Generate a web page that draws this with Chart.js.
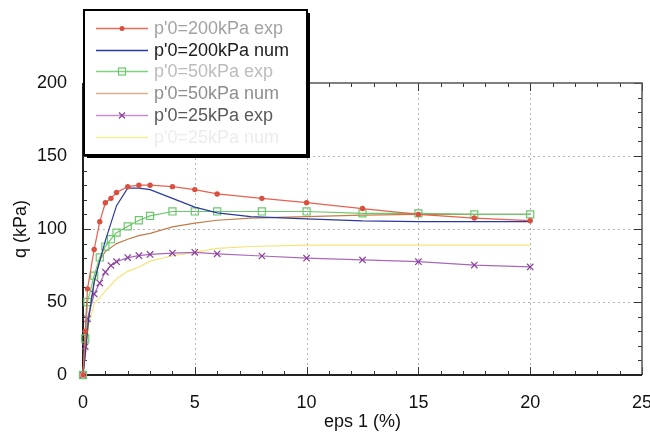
<!DOCTYPE html>
<html><head><meta charset="utf-8">
<script src="https://cdn.jsdelivr.net/npm/chart.js@4"></script>
<style>html,body{margin:0;padding:0;background:#fff}</style>
</head><body>
<canvas id="c" width="650" height="433"></canvas>
<script>
const xTicks=[0,5,10,15,20,25];
const yTicks=[0,50,100,150,200];
const seriesNames=["p'0=200kPa exp","p'0=200kPa num","p'0=50kPa exp","p'0=50kPa num","p'0=25kPa exp","p'0=25kPa num"];
const expX=[0,0.1,0.2,0.5,0.75,1,1.25,1.5,2,2.5,3,4,5,6,8,10,12.5,15,17.5,20];
const exp200=[0,30,59,86,105,118,121,125,129,130,130,129,127,124,121,118,114,110,107.5,105.7];
const exp50=[0,25,50,68,80.5,88,93,97.5,101.8,106,109,112,112,112,112,112,110.7,110.7,110,110];
const exp25=[0,19.5,38.5,55.5,63,70.5,75,77.6,80.4,81.7,82.6,83.5,84,83,81.5,80,78.8,77.6,75.3,74];
const numX=[0,0.1,0.25,0.5,0.75,1,1.5,2,2.5,3,4,5,6,7.5,10,12.5,15,17.5,20];
const num200=[0,14,38,64,78,92,116,128,128,127,121,115,111,108.5,107,105.5,105,105,105];
const num50=[0,15,40,63,79,84.5,90,93,95.5,97,101.5,104,106,107.5,108.5,109.5,110,110,110];
const num25=[0,12,34,49,53,57.5,66,71,74,78,81.7,84,86.7,88,89,89,89,89,89];

const FONT='"Liberation Sans", Arial, sans-serif';
const pts=(xs,ys)=>xs.map((x,i)=>({x:x,y:ys[i]}));

const legendStyle=[
  {line:'#ee6a58',text:'#a2a2a2',marker:'circle',mc:'#d95040'},
  {line:'#2a3a9c',text:'#202020'},
  {line:'#7dd27d',text:'#bcbcbc',marker:'rect',mc:'#6cc86c'},
  {line:'#dcae8c',text:'#8e8e8e'},
  {line:'#c28fd0',text:'#5a5a5a',marker:'cross',mc:'#8b3f9b'},
  {line:'#f7ee9c',text:'#ececec'}
];

const framePlugin={
  id:'frame',
  beforeDatasetsDraw(chart){
    const {ctx,chartArea:a,scales:{x,y}}=chart;
    ctx.save();
    ctx.strokeStyle='#b4b4b4';ctx.lineWidth=1;ctx.setLineDash([2,3]);
    [5,10,15,20].forEach(v=>{const px=Math.round(x.getPixelForValue(v))+0.5;ctx.beginPath();ctx.moveTo(px,a.top);ctx.lineTo(px,a.bottom);ctx.stroke();});
    [50,100,150].forEach(v=>{const py=Math.round(y.getPixelForValue(v))+0.5;ctx.beginPath();ctx.moveTo(a.left,py);ctx.lineTo(a.right,py);ctx.stroke();});
    ctx.setLineDash([]);
    ctx.strokeStyle='#333';ctx.lineWidth=1;
    for(let v=0;v<=25;v++){const px=Math.round(x.getPixelForValue(v))+0.5;const L=(v%5===0)?8:4;
      ctx.beginPath();ctx.moveTo(px,a.bottom);ctx.lineTo(px,a.bottom-L);ctx.stroke();
      ctx.beginPath();ctx.moveTo(px,a.top);ctx.lineTo(px,a.top+L);ctx.stroke();}
    for(let v=0;v<=200;v+=10){const py=Math.round(y.getPixelForValue(v))+0.5;const L=(v%50===0)?8:4;
      ctx.beginPath();ctx.moveTo(a.left,py);ctx.lineTo(a.left+L,py);ctx.stroke();
      ctx.beginPath();ctx.moveTo(a.right,py);ctx.lineTo(a.right-L,py);ctx.stroke();}
    ctx.strokeStyle='#555';ctx.lineWidth=1.5;
    ctx.beginPath();ctx.moveTo(a.left,a.top);ctx.lineTo(a.right,a.top);ctx.lineTo(a.right,a.bottom);ctx.stroke();
    ctx.strokeStyle='#222';ctx.lineWidth=2;
    ctx.beginPath();ctx.moveTo(a.left,a.top);ctx.lineTo(a.left,a.bottom);ctx.lineTo(a.right,a.bottom);ctx.stroke();
    ctx.restore();
  },
  afterDraw(chart){
    const ctx=chart.ctx;
    ctx.save();
    const bx=84,by=10,bw=223,bh=145;
    ctx.fillStyle='#000';ctx.fillRect(bx+3,by+3,bw,bh);
    ctx.fillStyle='#fff';ctx.fillRect(bx,by,bw,bh);
    ctx.strokeStyle='#000';ctx.lineWidth=2;ctx.strokeRect(bx,by,bw,bh);
    ctx.font='18px '+FONT;ctx.textBaseline='middle';ctx.textAlign='left';
    seriesNames.forEach((name,i)=>{
      const st=legendStyle[i];const yy=Math.round(28+i*21.7)+0.5;
      ctx.strokeStyle=st.line;ctx.lineWidth=1.5;
      ctx.beginPath();ctx.moveTo(96,yy);ctx.lineTo(148,yy);ctx.stroke();
      if(st.marker==='circle'){ctx.fillStyle=st.mc;ctx.beginPath();ctx.arc(122,yy,2.5,0,Math.PI*2);ctx.fill();}
      if(st.marker==='rect'){ctx.strokeStyle=st.mc;ctx.lineWidth=1.2;ctx.strokeRect(118.5,yy-3.5,7,7);}
      if(st.marker==='cross'){ctx.strokeStyle=st.mc;ctx.lineWidth=1.2;ctx.beginPath();ctx.moveTo(119,yy-3);ctx.lineTo(125,yy+3);ctx.moveTo(125,yy-3);ctx.lineTo(119,yy+3);ctx.stroke();}
      ctx.fillStyle=st.text;ctx.fillText(name,154,yy+1);
    });
    ctx.restore();
  }
};

new Chart(document.getElementById('c'),{
  type:'line',
  data:{datasets:[
    {label:seriesNames[0],data:pts(expX,exp200),clip:8,borderColor:'#e8604e',borderWidth:1.2,pointStyle:'circle',pointRadius:2.7,pointBackgroundColor:'#d95040',pointBorderColor:'#d95040',pointBorderWidth:0},
    {label:seriesNames[1],data:pts(numX,num200),borderColor:'#2a3a9c',borderWidth:1.2,pointRadius:0},
    {label:seriesNames[2],data:pts(expX,exp50),clip:8,borderColor:'#6cc86c',borderWidth:1.2,pointStyle:'rect',pointRadius:5,pointBackgroundColor:'rgba(0,0,0,0)',pointBorderColor:'#6cc86c',pointBorderWidth:1.2},
    {label:seriesNames[3],data:pts(numX,num50),borderColor:'#c27c48',borderWidth:1.2,pointRadius:0},
    {label:seriesNames[4],data:pts(expX,exp25),clip:8,borderColor:'#a868b8',borderWidth:1.2,pointStyle:'crossRot',pointRadius:4.5,pointBorderColor:'#8b3f9b',pointBorderWidth:1.2},
    {label:seriesNames[5],data:pts(numX,num25),borderColor:'#f5e37a',borderWidth:1.2,pointRadius:0}
  ]},
  options:{
    responsive:false,animation:false,devicePixelRatio:1,
    layout:{padding:{top:83,right:8,left:0,bottom:0}},
    plugins:{legend:{display:false},tooltip:{enabled:false}},
    elements:{line:{tension:0,fill:false}},
    scales:{
      x:{type:'linear',min:0,max:25,
        afterFit(s){s.height=58;s.paddingLeft=0;s.paddingRight=0;},
        afterBuildTicks(s){s.ticks=xTicks.map(v=>({value:v}));},
        ticks:{padding:17,color:'#111',font:{family:FONT,size:18},maxRotation:0},
        grid:{display:false,drawTicks:false},border:{display:false},
        title:{display:true,text:'eps 1 (%)',color:'#111',font:{family:FONT,size:18},padding:{top:0,bottom:0}}},
      y:{type:'linear',min:0,max:200,
        afterFit(s){s.width=83;s.paddingTop=0;s.paddingBottom=0;},
        afterBuildTicks(s){s.ticks=yTicks.map(v=>({value:v}));},
        ticks:{padding:16,color:'#111',font:{family:FONT,size:18}},
        grid:{display:false,drawTicks:false},border:{display:false},
        title:{display:true,text:'q (kPa)',color:'#111',font:{family:FONT,size:18},padding:{top:10,bottom:0}}}
    }
  },
  plugins:[framePlugin]
});
</script>
</body></html>
